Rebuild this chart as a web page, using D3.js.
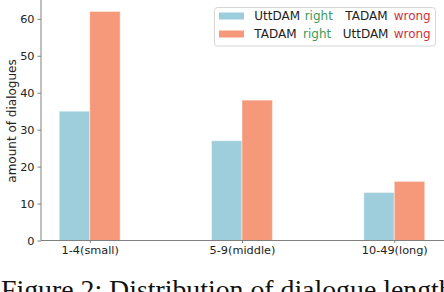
<!DOCTYPE html>
<html>
<head>
<script src="https://cdnjs.cloudflare.com/ajax/libs/d3/7.8.5/d3.min.js"></script>
<style>
  body { margin: 0; background: #fff; }
  svg { display: block; font-family: "DejaVu Sans", sans-serif; }
</style>
</head>
<body>
<svg width="444" height="292"></svg>
<script>
// data
var categories = ["1-4(small)", "5-9(middle)", "10-49(long)"];
var uttRight = [35, 27, 13];   // UttDAM right, TADAM wrong
var tadamRight = [62, 38, 16]; // TADAM right, UttDAM wrong
var yTicks = [0, 10, 20, 30, 40, 50, 60];

var colors = ["#9ecddb", "#f6997b"];
var series = [uttRight, tadamRight];

var svg = d3.select("svg");
var plotLeft = 41, plotRight = 443, plotTop = 0, plotBottom = 240.5;

// bar positions like matplotlib: centre i, width 0.2, margins 5%
var x = d3.scaleLinear().domain([-0.32, 2.32]).range([plotLeft, plotRight]);
var y = d3.scaleLinear().domain([0, 65.1]).range([plotBottom, plotTop]);
var bw = 0.2;

var g = svg.append("g");

series.forEach(function(vals, s) {
  g.selectAll(".bar" + s)
    .data(vals)
    .enter()
    .append("rect")
    .attr("x", function(d, i) { return x(i + (s === 0 ? -bw : 0)); })
    .attr("y", function(d) { return y(d); })
    .attr("width", x(bw) - x(0))
    .attr("height", function(d) { return plotBottom - y(d); })
    .attr("fill", colors[s])
    .attr("stroke", "#fff")
    .attr("stroke-opacity", 0.45)
    .attr("stroke-width", 1);
});

// y axis
var yAxis = d3.axisLeft(y).tickValues(yTicks).tickSize(3.5).tickPadding(3);
var ya = svg.append("g").attr("transform", "translate(" + plotLeft + ",0)").call(yAxis);
ya.select(".domain").attr("stroke", "#808080").attr("d", "M0," + plotTop + "V" + plotBottom);
ya.selectAll(".tick line").attr("stroke", "#808080");
ya.selectAll(".tick text").attr("font-size", 11.3).attr("fill", "#222").attr("font-family", "DejaVu Sans");

// x axis
var xAxis = d3.axisBottom(x).tickValues([0, 1, 2])
  .tickFormat(function(d) { return categories[d]; }).tickSize(2.5).tickPadding(3);
var xa = svg.append("g").attr("transform", "translate(0," + plotBottom + ")").call(xAxis);
xa.select(".domain").attr("stroke", "#808080").attr("d", "M" + plotLeft + ",0H" + 444);
xa.selectAll(".tick line").attr("stroke", "#808080");
xa.selectAll(".tick text").attr("font-size", 11.3).attr("fill", "#222").attr("font-family", "DejaVu Sans");

// y label
svg.append("text")
  .attr("transform", "translate(16,121) rotate(-90)")
  .attr("text-anchor", "middle")
  .attr("font-size", 12)
  .attr("fill", "#222")
  .text("amount of dialogues");

// legend
var legend = svg.append("g");
legend.append("rect")
  .attr("x", 214.5).attr("y", 7.5).attr("width", 221).attr("height", 38.5)
  .attr("rx", 3).attr("fill", "#fff").attr("fill-opacity", 0.85)
  .attr("stroke", "#d6d6d6").attr("stroke-width", 1);

var legendRows = [
  [["UttDAM", "#222", 254.3], ["right", "#3f9a5b", 304.7], ["TADAM", "#222", 345.3], ["wrong", "#d0323a", 393.7]],
  [["TADAM", "#222", 254.3], ["right", "#3f9a5b", 303], ["UttDAM", "#222", 342.7], ["wrong", "#d0323a", 393.7]]
];
legendRows.forEach(function(row, r) {
  var cy = 16 + r * 18;
  legend.append("rect")
    .attr("x", 219).attr("y", cy - 3.5).attr("width", 25).attr("height", 7)
    .attr("fill", colors[r]);
  row.forEach(function(p) {
    legend.append("text")
      .attr("x", p[2]).attr("y", cy)
      .attr("dy", "0.36em")
      .attr("font-size", 12)
      .attr("fill", p[1])
      .text(p[0]);
  });
});

// caption (cut off at bottom, as in the page)
svg.append("text")
  .attr("x", 1).attr("y", 299)
  .attr("font-family", "Liberation Serif, serif")
  .attr("font-size", 27.8)
  .attr("fill", "#111")
  .text("Figure 2: Distribution of dialogue length");
</script>
</body>
</html>
